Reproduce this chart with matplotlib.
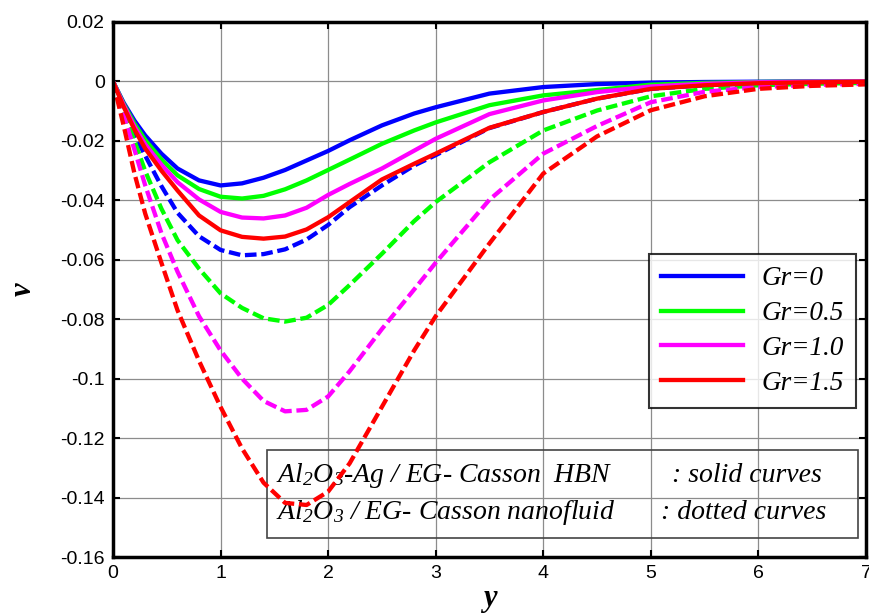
import matplotlib
matplotlib.use("Agg")
import matplotlib.pyplot as plt
from matplotlib.patches import Rectangle
from matplotlib.lines import Line2D

# ---------------- data ----------------
y_vals = [0, 0.1, 0.2, 0.3, 0.45, 0.6, 0.8, 1.0, 1.2, 1.4, 1.6, 1.8, 2.0, 2.2,
          2.5, 2.8, 3.0, 3.5, 4.0, 4.5, 5.0, 5.5, 6.0, 6.5, 7.0]

# Al2O3-Ag / EG Casson HBN (solid curves)
hbn_gr0 = [0, -0.0072, -0.0132, -0.0182, -0.0243, -0.0293, -0.0333, -0.0350, -0.0343,
           -0.0324, -0.0298, -0.0266, -0.0234, -0.0198, -0.0148, -0.0108, -0.0087,
           -0.0041, -0.0019, -0.0009, -0.0004, -0.0002, -0.0001, 0.0, 0.0]
hbn_gr05 = [0, -0.0076, -0.0142, -0.0197, -0.0262, -0.0316, -0.0362, -0.0388, -0.0394,
            -0.0385, -0.0363, -0.0333, -0.0298, -0.0263, -0.0210, -0.0165, -0.0138,
            -0.0080, -0.0047, -0.0029, -0.0011, -0.0005, -0.0002, -0.0001, 0.0]
hbn_gr10 = [0, -0.0080, -0.0152, -0.0212, -0.0280, -0.0339, -0.0397, -0.0439, -0.0458,
            -0.0461, -0.0451, -0.0425, -0.0382, -0.0345, -0.0293, -0.0233, -0.0193,
            -0.0110, -0.0064, -0.0036, -0.0017, -0.0008, -0.0003, -0.0001, 0.0]
hbn_gr15 = [0, -0.0086, -0.0162, -0.0226, -0.0300, -0.0367, -0.0451, -0.0501, -0.0523,
            -0.0529, -0.0522, -0.0498, -0.0457, -0.0406, -0.0330, -0.0277, -0.0243,
            -0.0156, -0.0103, -0.0058, -0.0025, -0.0013, -0.0006, -0.0003, -0.0001]

# Al2O3 / EG Casson nanofluid (dotted curves)
nf_gr0 = [0, -0.0094, -0.0178, -0.0250, -0.0352, -0.0442, -0.0521, -0.0567, -0.0585,
          -0.0581, -0.0565, -0.0532, -0.0483, -0.0423, -0.0350, -0.0283, -0.0248,
          -0.0157, -0.0103, -0.0058, -0.0025, -0.0013, -0.0006, -0.0003, -0.0001]
nf_gr05 = [0, -0.0104, -0.0200, -0.0302, -0.0428, -0.0534, -0.0630, -0.0713, -0.0762,
           -0.0797, -0.0808, -0.0795, -0.0752, -0.0685, -0.0580, -0.0470, -0.0406,
           -0.0272, -0.0165, -0.0098, -0.0050, -0.0025, -0.0013, -0.0008, -0.0005]
nf_gr10 = [0, -0.0115, -0.0230, -0.0350, -0.0510, -0.0640, -0.0790, -0.0905, -0.1000,
           -0.1075, -0.1110, -0.1105, -0.1060, -0.0975, -0.0833, -0.0700, -0.0610,
           -0.0398, -0.0243, -0.0150, -0.0070, -0.0035, -0.0019, -0.0012, -0.0008]
nf_gr15 = [0, -0.0150, -0.0310, -0.0445, -0.0610, -0.0770, -0.0940, -0.1095, -0.1235,
           -0.1350, -0.1418, -0.1425, -0.1380, -0.1285, -0.1095, -0.0905, -0.0790,
           -0.0545, -0.0310, -0.0185, -0.0097, -0.0050, -0.0025, -0.0015, -0.0010]

labels = ["Gr=0", "Gr=0.5", "Gr=1.0", "Gr=1.5"]
colors = ["#0000ff", "#00ff00", "#ff00ff", "#ff0000"]
hbn_series = [hbn_gr0, hbn_gr05, hbn_gr10, hbn_gr15]
nf_series = [nf_gr0, nf_gr05, nf_gr10, nf_gr15]

x_ticks = [0, 1, 2, 3, 4, 5, 6, 7]
y_ticks = [-0.16, -0.14, -0.12, -0.1, -0.08, -0.06, -0.04, -0.02, 0, 0.02]
y_ticklabels = ["-0.16", "-0.14", "-0.12", "-0.1", "-0.08", "-0.06", "-0.04", "-0.02", "0", "0.02"]

# ---------------- style ----------------
plt.rcParams["mathtext.fontset"] = "custom"
plt.rcParams["mathtext.rm"] = "Liberation Serif:italic"
plt.rcParams["mathtext.it"] = "Liberation Serif:italic"

fig = plt.figure(figsize=(8.69, 6.15), dpi=100)
ax = fig.add_axes([0.130, 0.0943, 0.8665, 0.870])

lw = 3.1
for c, s in zip(colors, nf_series):
    ax.plot(y_vals, s, color=c, lw=lw, dashes=(2.7, 1.1), dash_capstyle="butt", zorder=4)
for c, s in zip(colors, hbn_series):
    ax.plot(y_vals, s, color=c, lw=lw, solid_capstyle="butt", zorder=5)

ax.set_xlim(0, 7)
ax.set_ylim(-0.16, 0.02)
ax.set_xticks(x_ticks)
ax.set_xticklabels([str(t) for t in x_ticks], fontsize=14, family="Liberation Sans")
ax.set_yticks(y_ticks)
ax.set_yticklabels(y_ticklabels, fontsize=14, family="Liberation Sans")
ax.tick_params(direction="in", length=5, width=1.5, top=True, right=True, pad=6)
ax.grid(True, color="#8c8c8c", lw=0.9, ls="-")
ax.set_axisbelow(True)
for sp in ax.spines.values():
    sp.set_linewidth(2.5)
    sp.set_color("black")
    sp.set_zorder(6)

ax.set_xlabel("y", fontsize=22, family="Liberation Serif", style="italic",
              weight="bold", labelpad=1)
ax.set_ylabel("v", fontsize=22, family="Liberation Serif", style="italic",
              weight="bold", labelpad=16)

# legend (solid curves)
handles = [Line2D([0], [0], color=c, lw=lw) for c in colors]
leg = ax.legend(handles, labels, loc="upper right", bbox_to_anchor=(0.987, 0.566),
                borderaxespad=0, frameon=True, fancybox=False, handlelength=3.0,
                handletextpad=0.7, labelspacing=0.36, borderpad=0.45,
                prop={"family": "Liberation Serif", "style": "italic", "size": 19.5})
leg.get_frame().set_edgecolor("black")
leg.get_frame().set_linewidth(1.5)
leg.set_zorder(10)

# annotation box (curves pass over it)
box = Rectangle((0.2045, 0.0355), 0.7845, 0.1645, transform=ax.transAxes,
                facecolor="none", edgecolor="#444444", lw=1.2, zorder=3)
ax.add_patch(box)
tkw = dict(transform=ax.transAxes, family="Liberation Serif", style="italic",
           fontsize=20, va="center", ha="left", zorder=3)
ax.text(0.216, 0.152, "Al$_2$O$_3$-Ag / EG- Casson  HBN", **tkw)
ax.text(0.742, 0.152, ": solid curves", **tkw)
ax.text(0.216, 0.083, "Al$_2$O$_3$ / EG- Casson nanofluid", **tkw)
ax.text(0.728, 0.083, ": dotted curves", **tkw)

fig.savefig("out.png", dpi=100)
